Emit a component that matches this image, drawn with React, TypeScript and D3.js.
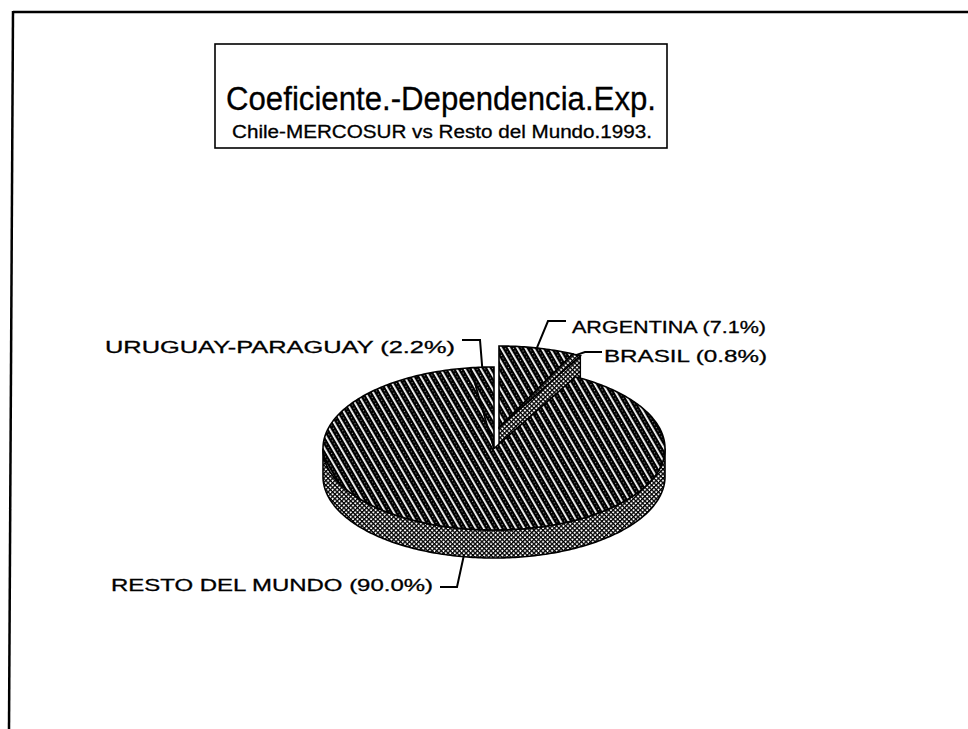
import React from 'react';
import * as d3 from 'd3';

// slice data (clockwise from 12 o'clock)
const categories = ['ARGENTINA', 'BRASIL', 'RESTO DEL MUNDO', 'URUGUAY-PARAGUAY'];
const shares = [7.1, 0.8, 90.0, 2.2];
const exploded = [true, true, false, false];
const title = 'Coeficiente.-Dependencia.Exp.';
const subtitle = 'Chile-MERCOSUR vs Resto del Mundo.1993.';

const W = 968;
const H = 729;
const cx = 494;
const cy = 448.5;
const rx = 171;
const ry = 81.5;
const depth = 28;
const explodeOff: [number, number] = [5, -21];

// label layout: text origin, width, leader elbow
const labelLayout: Record<string, { x: number; y: number; w: number; elbow: [number, number][] }> = {
  'URUGUAY-PARAGUAY': { x: 105, y: 353, w: 350, elbow: [[462, 340], [480, 340]] },
  ARGENTINA: { x: 572, y: 333, w: 194, elbow: [[566, 321], [548, 321]] },
  BRASIL: { x: 604, y: 362, w: 163, elbow: [[602, 352], [585, 352]] },
  'RESTO DEL MUNDO': { x: 111, y: 591, w: 322, elbow: [[440, 587], [457, 587]] },
};

const pt = (a: number, dx = 0, dy = 0): [number, number] => [
  cx + rx * Math.sin(a) + dx,
  cy - ry * Math.cos(a) + dy,
];
const arcPts = (a0: number, a1: number, dx = 0, dy = 0) => {
  const n = Math.max(2, Math.ceil(Math.abs(a1 - a0) * 60));
  return d3.range(n + 1).map((i) => pt(a0 + ((a1 - a0) * i) / n, dx, dy));
};
const line = d3.line();

const App: React.FC = () => {
  const pie = d3.pie<number>().sort(null).value((d) => d);
  const arcs = pie(shares);

  const slices = arcs.map((a, i) => {
    const off = exploded[i] ? explodeOff : [0, 0];
    return { ...a, name: categories[i], off, i };
  });

  const topPath = (s: any) =>
    line([[cx + s.off[0], cy + s.off[1]], ...arcPts(s.startAngle, s.endAngle, s.off[0], s.off[1])]) + 'Z';

  const sidePath = (s: any) => {
    const a0 = Math.max(s.startAngle, Math.PI / 2);
    const a1 = Math.min(s.endAngle, (3 * Math.PI) / 2);
    if (a1 <= a0) return null;
    const top = arcPts(a0, a1, s.off[0], s.off[1]);
    const bot = arcPts(a0, a1, s.off[0], s.off[1] + depth).reverse();
    return line([...top, ...bot]) + 'Z';
  };

  const expl = slices.filter((s) => exploded[s.i]);
  const rest = slices.filter((s) => !exploded[s.i]);
  const wallAngle = d3.max(expl, (s) => s.endAngle) as number;
  const wallRim = pt(wallAngle, explodeOff[0], explodeOff[1]);
  const wallPath =
    line([
      [cx + explodeOff[0], cy + explodeOff[1]],
      wallRim,
      [wallRim[0], wallRim[1] + depth],
      [cx + explodeOff[0], cy + explodeOff[1] + depth],
    ]) + 'Z';

  const fillFor = (name: string) => (name === 'BRASIL' ? 'url(#cross)' : 'url(#stripe)');

  const leaderTarget = (s: any): [number, number] => {
    const m = (s.startAngle + s.endAngle) / 2;
    const p = pt(m, s.off[0], s.off[1]);
    if (Math.cos(m) < 0) p[1] += depth;
    return p;
  };

  const font = '"Liberation Sans", Arial, sans-serif';

  return (
    <svg width={W} height={H} style={{ position: 'absolute', left: 0, top: 0, background: '#fff' }}>
      <defs>
        <pattern id="stripe" width={7} height={7} patternUnits="userSpaceOnUse" patternTransform="rotate(-30)">
          <rect width={7} height={7} fill="#000" />
          <rect x={0} width={1.8} height={7} fill="#fff" />
          <rect x={4} y={1.5} width={0.8} height={0.8} fill="#fff" />
          <rect x={4} y={5} width={0.8} height={0.8} fill="#fff" />
        </pattern>
        <pattern id="cross" width={3.2} height={3.2} patternUnits="userSpaceOnUse" patternTransform="rotate(45)">
          <rect width={3.2} height={3.2} fill="#fff" />
          <rect width={3.2} height={1.3} fill="#000" />
          <rect width={1.3} height={3.2} fill="#000" />
        </pattern>
      </defs>

      {/* page frame */}
      <line x1={13} y1={12} x2={W} y2={12} stroke="#000" strokeWidth={2.5} />
      <line x1={13} y1={11} x2={9} y2={H} stroke="#000" strokeWidth={2.5} />

      {/* title box */}
      <rect x={215} y={44} width={452} height={104} fill="none" stroke="#000" strokeWidth={1.6} />
      <text x={226} y={110} fontFamily={font} fontSize={34} textLength={430} lengthAdjust="spacingAndGlyphs"
        stroke="#000" strokeWidth={0.3}>
        {title}
      </text>
      <text x={232} y={138} fontFamily={font} fontSize={18} textLength={420} lengthAdjust="spacingAndGlyphs"
        stroke="#000" strokeWidth={0.3}>
        {subtitle}
      </text>

      {/* sides of the non-exploded slices */}
      {rest.map((s) => {
        const d = sidePath(s);
        return d ? <path key={'side' + s.i} d={d} fill="url(#cross)" stroke="#000" strokeWidth={1.6} /> : null;
      })}
      {/* wall of exploded slices */}
      <path d={wallPath} fill="url(#cross)" stroke="#000" strokeWidth={1.4} />
      {expl.map((s) => (
        <path key={'top' + s.i} d={topPath(s)} fill={fillFor(s.name)} stroke="#000" strokeWidth={1.6} />
      ))}
      {rest.map((s) => (
        <path key={'top' + s.i} d={topPath(s)} fill={fillFor(s.name)} stroke="#000" strokeWidth={1.6} />
      ))}

      {/* labels */}
      {slices.map((s) => {
        const L = labelLayout[s.name];
        const tgt = leaderTarget(s);
        const txt = `${s.name} (${shares[s.i].toFixed(1)}%)`;
        return (
          <g key={'lab' + s.i}>
            <path d={line([...L.elbow, tgt]) || ''} fill="none" stroke="#000" strokeWidth={2} />
            <text x={L.x} y={L.y} fontFamily={font} fontSize={17} textLength={L.w} lengthAdjust="spacingAndGlyphs"
              stroke="#000" strokeWidth={0.3}>
              {txt}
            </text>
          </g>
        );
      })}
    </svg>
  );
};

export default App;
